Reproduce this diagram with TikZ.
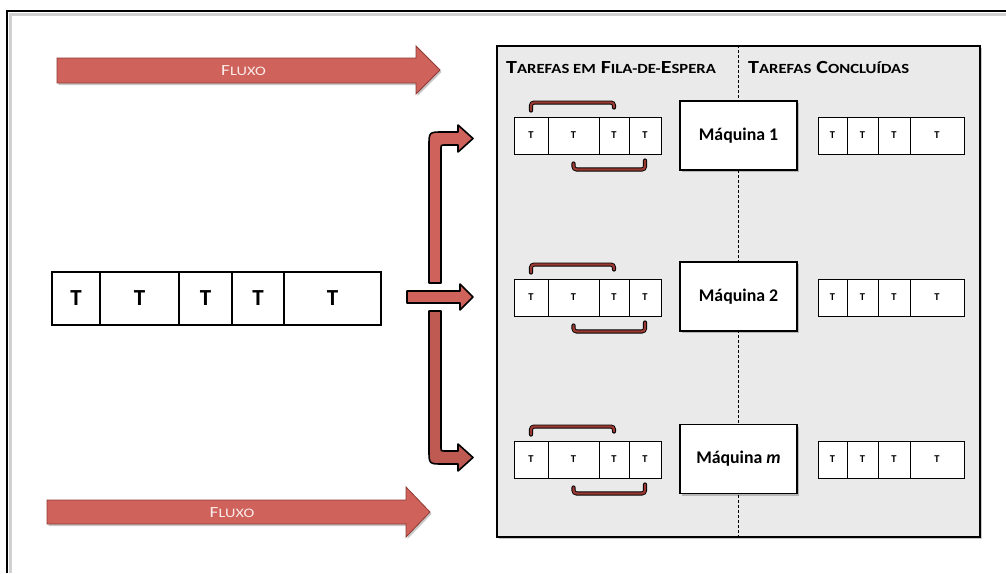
\documentclass[tikz,border=0pt]{standalone}
\usepackage{fontspec}
\setmainfont{Carlito}
\usetikzlibrary{shadows}

\definecolor{flux}{HTML}{CF625B}
\definecolor{fluxedge}{HTML}{8E3A35}
\definecolor{fluxlow}{HTML}{BF5A53}
\definecolor{panelgray}{HTML}{EAEAEA}
\definecolor{hookred}{HTML}{9A3832}
\definecolor{fluxtextc}{HTML}{FBECEA}

% fake small caps for the headings and arrow labels
\newcommand\hsc[1]{{\fontsize{14}{16}\selectfont #1}}
\newcommand\fsc[1]{{\fontsize{13}{15}\selectfont #1}}
\newcommand\widen[2]{\scalebox{#1}[1]{#2}}

\tikzset{
  softshadow/.style={drop shadow={shadow xshift=1.5pt, shadow yshift=-2pt, opacity=0.22, fill=black}},
  cellbox/.style={draw=black, line width=0.9pt, fill=white, inner sep=0pt,
    font=\bfseries\fontsize{10.5}{11}\selectfont},
  bigcell/.style={draw=black, line width=1.5pt, fill=white, inner sep=0pt,
    font=\bfseries\fontsize{23}{24}\selectfont},
  machine/.style={draw=black, line width=1.3pt, fill=white, inner sep=0pt,
    minimum width=117pt, minimum height=69pt,
    font=\bfseries\fontsize{17.8}{19}\selectfont, softshadow},
  panelbox/.style={draw=black, line width=2.2pt, fill=panelgray, inner sep=0pt, softshadow},
  fluxarrow/.style={fill=flux, draw=fluxedge, line width=0.8pt, softshadow},
  fluxlabel/.style={text=fluxtextc, inner sep=0pt, font=\fontsize{15.5}{17}\selectfont},
  header/.style={inner sep=0pt, font=\bfseries\fontsize{18.5}{20}\selectfont},
  branch/.style={fill=flux, draw=black, line width=1.6pt, line join=round},
  hookline/.style={draw=hookred, line width=2.3pt, line cap=round, rounded corners=3pt,
    preaction={draw=black, line width=4.1pt, line cap=round, rounded corners=3pt}},
}

\begin{document}
\begin{tikzpicture}[x=1pt,y=-1pt]
\useasboundingbox (0,0) rectangle (1006,573);

% outer frame, open to the right and bottom
\draw[black!18, line width=3pt] (10,573) -- (10,14.5) -- (1006,14.5);
\draw[line width=2.4pt] (7,573) -- (7,11) -- (1006,11);

% flow arrows
\filldraw[fluxarrow] (57,58) -- (416,58) -- (416,46) -- (440,70) -- (416,94) -- (416,83) -- (57,83) -- cycle;
\node[fluxlabel] (flux-top) at (243.5,71) {\widen{1.25}{F\fsc{LUXO}}};
\filldraw[fluxarrow] (47,500) -- (406,500) -- (406,487) -- (430,512) -- (406,537) -- (406,524) -- (47,524) -- cycle;
\node[fluxlabel] (flux-bottom) at (232,513) {\widen{1.25}{F\fsc{LUXO}}};

% incoming task queue
\foreach \xa/\xb [count=\i] in {52/100,100/179,179/232,232/284,284/381} {
  \pgfmathsetmacro\xc{(\xa+\xb)/2}
  \pgfmathsetmacro\cw{\xb-\xa}
  \node[bigcell, minimum width=\cw pt, minimum height=53pt] (src-\i) at (\xc,298.5) {T};
}

% dispatching arrows
\filldraw[branch] (429,283) -- (429,146) .. controls (429,132) .. (443,132) -- (458,132) -- (458,125)
  -- (473,138.5) -- (458,152) -- (458,145) -- (444,145) .. controls (441,145) .. (441,148) -- (441,283) -- cycle;
\filldraw[branch] (407,291) -- (460,291) -- (460,284) -- (473,297) -- (460,310) -- (460,303) -- (407,303) -- cycle;
\filldraw[branch, fill=fluxlow] (429,311) -- (429,450) .. controls (429,464) .. (443,464) -- (458,464) -- (458,471)
  -- (473,457.5) -- (458,444) -- (458,451) -- (444,451) .. controls (441,451) .. (441,448) -- (441,311) -- cycle;

% machine panel
\node[panelbox, minimum width=483pt, minimum height=491pt] (panel) at (738.5,291.5) {};
\draw[dashed, line width=0.9pt, dash pattern=on 3pt off 2pt] (panel.north) -- (panel.south);
\node[header, anchor=base west] (hdr-wait) at (506,73) {\widen{1.19}{T\hsc{AREFAS EM} F\hsc{ILA-DE-}E\hsc{SPERA}}};
\node[header, anchor=base west] (hdr-done) at (748,73) {\widen{1.19}{T\hsc{AREFAS} C\hsc{ONCLUÍDAS}}};

\foreach \r/\yc/\my/\lab in {1/135.5/135.5/{Máquina 1}, 2/297.5/296.5/{Máquina 2}, 3/459.5/459/{Máquina \textit{m}}} {
  % waiting queue
  \foreach \xa/\xb [count=\i] in {514/548,548/599,599/629,629/661} {
    \pgfmathsetmacro\xc{(\xa+\xb)/2}
    \pgfmathsetmacro\cw{\xb-\xa}
    \node[cellbox, minimum width=\cw pt, minimum height=37pt] (w\r-\i) at (\xc,\yc) {T};
  }
  % reordering inside the queue
  \draw[hookline] ([yshift=6pt]w\r-1.north) -- ++(0,-8) -| ([yshift=9pt]w\r-3.north);
  \draw[hookline] ([yshift=-6pt]w\r-4.south) -- ++(0,9) -| ([yshift=-9pt]w\r-2.south);
  % machine
  \node[machine] (m\r) at (738.5,\my) {\lab};
  % finished queue
  \foreach \xa/\xb [count=\i] in {818/847,847/878,878/910,910/964} {
    \pgfmathsetmacro\xc{(\xa+\xb)/2}
    \pgfmathsetmacro\cw{\xb-\xa}
    \node[cellbox, minimum width=\cw pt, minimum height=37pt] (d\r-\i) at (\xc,\yc) {T};
  }
}
\end{tikzpicture}
\end{document}
